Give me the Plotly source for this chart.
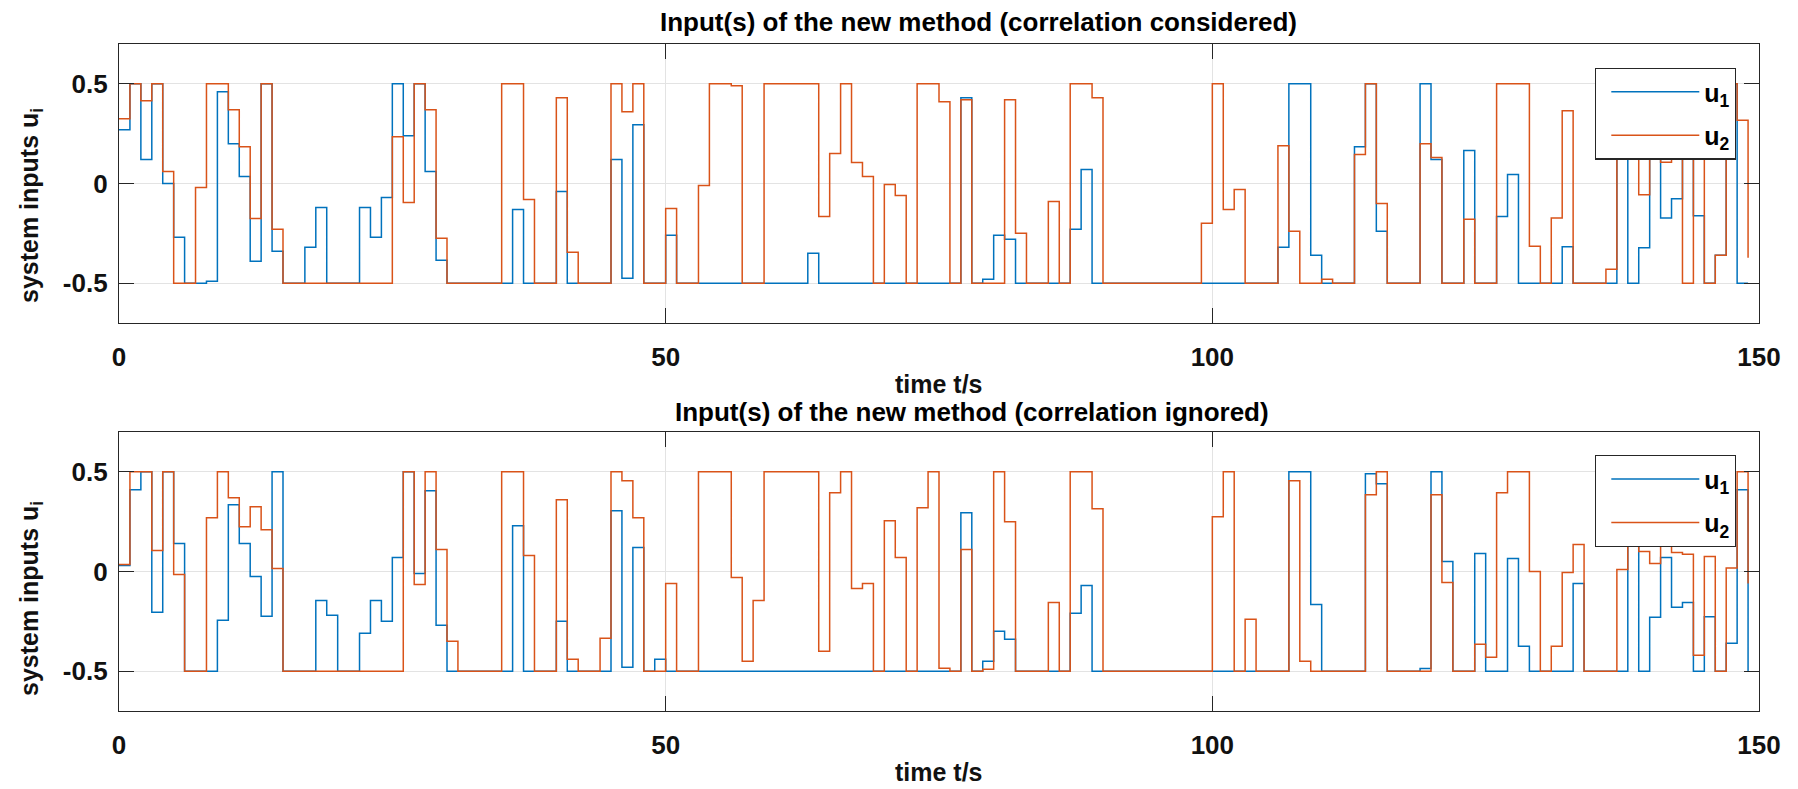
import plotly.graph_objects as go

# time samples (s)
t = list(range(150))

# ---- correlation considered ----
top_u1 = [0.27, 0.5, 0.12, 0.5, 0.0, -0.27, -0.5, -0.5, -0.49, 0.46,
          0.2, 0.035, -0.39, 0.5, -0.34, -0.5, -0.5, -0.32, -0.12, -0.5,
          -0.5, -0.5, -0.12, -0.27, -0.07, 0.5, 0.24, 0.5, 0.06, -0.385,
          -0.5, -0.5, -0.5, -0.5, -0.5, -0.5, -0.13, -0.5, -0.5, -0.5,
          -0.04, -0.5, -0.5, -0.5, -0.5, 0.12, -0.475, 0.295, -0.5, -0.5,
          -0.26, -0.5, -0.5, -0.5, -0.5, -0.5, -0.5, -0.5, -0.5, -0.5,
          -0.5, -0.5, -0.5, -0.35, -0.5, -0.5, -0.5, -0.5, -0.5, -0.5,
          -0.5, -0.5, -0.5, -0.5, -0.5, -0.5, -0.5, 0.43, -0.5, -0.48,
          -0.26, -0.28, -0.5, -0.5, -0.5, -0.5, -0.5, -0.23, 0.07, -0.5,
          -0.5, -0.5, -0.5, -0.5, -0.5, -0.5, -0.5, -0.5, -0.5, -0.5,
          -0.5, -0.5, -0.5, -0.5, -0.5, -0.5, -0.32, 0.5, 0.5, -0.36,
          -0.5, -0.5, -0.5, 0.185, 0.5, -0.24, -0.5, -0.5, -0.5, 0.5,
          0.12, -0.5, -0.5, 0.165, -0.5, -0.5, -0.165, 0.045, -0.5, -0.5,
          -0.5, -0.5, -0.317, -0.5, -0.5, -0.5, -0.5, 0.35, -0.5, -0.323,
          0.4, -0.173, -0.077, 0.3, -0.162, -0.5, -0.36, 0.5, -0.5, -0.5]

top_u2 = [0.325, 0.5, 0.415, 0.5, 0.06, -0.5, -0.5, -0.02, 0.5, 0.5,
          0.37, 0.185, -0.175, 0.5, -0.23, -0.5, -0.5, -0.5, -0.5, -0.5,
          -0.5, -0.5, -0.5, -0.5, -0.5, 0.235, -0.095, 0.5, 0.37, -0.275,
          -0.5, -0.5, -0.5, -0.5, -0.5, 0.5, 0.5, -0.08, -0.5, -0.5,
          0.43, -0.345, -0.5, -0.5, -0.5, 0.5, 0.36, 0.5, -0.5, -0.5,
          -0.125, -0.5, -0.5, -0.01, 0.5, 0.5, 0.49, -0.5, -0.5, 0.5,
          0.5, 0.5, 0.5, 0.5, -0.165, 0.15, 0.5, 0.105, 0.035, -0.5,
          -0.005, -0.06, -0.5, 0.5, 0.5, 0.41, -0.5, 0.42, -0.5, -0.5,
          -0.5, 0.42, -0.25, -0.5, -0.5, -0.09, -0.5, 0.5, 0.5, 0.43,
          -0.5, -0.5, -0.5, -0.5, -0.5, -0.5, -0.5, -0.5, -0.5, -0.2,
          0.5, -0.13, -0.03, -0.5, -0.5, -0.5, 0.19, -0.24, -0.5, -0.5,
          -0.48, -0.5, -0.5, 0.145, 0.5, -0.1, -0.5, -0.5, -0.5, 0.2,
          0.13, -0.5, -0.5, -0.18, -0.5, -0.5, 0.5, 0.5, 0.5, -0.315,
          -0.5, -0.173, 0.365, -0.5, -0.5, -0.5, -0.43, 0.5, 0.3, -0.057,
          0.45, 0.107, 0.25, -0.5, 0.5, -0.5, -0.36, 0.5, 0.318, -0.373]

# ---- correlation ignored ----
bot_u1 = [0.03, 0.41, 0.5, -0.205, 0.5, 0.14, -0.5, -0.5, -0.5, -0.245,
          0.335, 0.14, -0.025, -0.225, 0.5, -0.5, -0.5, -0.5, -0.145, -0.22,
          -0.5, -0.5, -0.31, -0.145, -0.25, 0.07, 0.5, -0.01, 0.405, -0.27,
          -0.5, -0.5, -0.5, -0.5, -0.5, -0.5, 0.23, -0.5, -0.5, -0.5,
          -0.25, -0.5, -0.5, -0.5, -0.5, 0.305, -0.48, 0.12, -0.5, -0.44,
          -0.5, -0.5, -0.5, -0.5, -0.5, -0.5, -0.5, -0.5, -0.5, -0.5,
          -0.5, -0.5, -0.5, -0.5, -0.5, -0.5, -0.5, -0.5, -0.5, -0.5,
          -0.5, -0.5, -0.5, -0.5, -0.5, -0.5, -0.5, 0.295, -0.5, -0.45,
          -0.3, -0.34, -0.5, -0.5, -0.5, -0.5, -0.5, -0.21, -0.07, -0.5,
          -0.5, -0.5, -0.5, -0.5, -0.5, -0.5, -0.5, -0.5, -0.5, -0.5,
          -0.5, -0.5, -0.5, -0.5, -0.5, -0.5, -0.5, 0.5, 0.5, -0.165,
          -0.5, -0.5, -0.5, -0.5, 0.49, 0.44, -0.5, -0.5, -0.5, -0.487,
          0.5, 0.05, -0.5, -0.5, 0.09, -0.5, -0.5, 0.065, -0.375, -0.5,
          -0.5, -0.5, -0.5, -0.06, -0.5, -0.5, -0.5, -0.5, 0.3, -0.5,
          -0.23, 0.07, -0.18, -0.155, -0.5, -0.227, -0.5, -0.36, 0.41, -0.5]

bot_u2 = [0.035, 0.5, 0.5, 0.105, 0.5, -0.015, -0.5, -0.5, 0.27, 0.5,
          0.37, 0.225, 0.325, 0.21, 0.015, -0.5, -0.5, -0.5, -0.5, -0.5,
          -0.5, -0.5, -0.5, -0.5, -0.5, -0.5, 0.5, -0.065, 0.5, 0.11,
          -0.35, -0.5, -0.5, -0.5, -0.5, 0.5, 0.5, 0.08, -0.5, -0.5,
          0.36, -0.44, -0.5, -0.5, -0.335, 0.5, 0.455, 0.27, -0.5, -0.5,
          -0.06, -0.5, -0.5, 0.5, 0.5, 0.5, -0.03, -0.45, -0.145, 0.5,
          0.5, 0.5, 0.5, 0.5, -0.4, 0.395, 0.5, -0.085, -0.06, -0.5,
          0.255, 0.07, -0.5, 0.32, 0.5, -0.485, -0.5, 0.11, -0.5, -0.49,
          0.5, 0.25, -0.5, -0.5, -0.5, -0.155, -0.5, 0.5, 0.5, 0.315,
          -0.5, -0.5, -0.5, -0.5, -0.5, -0.5, -0.5, -0.5, -0.5, -0.5,
          0.275, 0.5, -0.5, -0.24, -0.5, -0.5, -0.5, 0.455, -0.45, -0.5,
          -0.5, -0.5, -0.5, -0.5, 0.385, 0.5, -0.5, -0.5, -0.5, -0.5,
          0.385, -0.055, -0.5, -0.5, -0.365, -0.43, 0.395, 0.5, 0.5, 0.0,
          -0.5, -0.375, -0.005, 0.135, -0.5, -0.5, -0.5, 0.01, 0.4, 0.1,
          0.04, 0.25, 0.095, 0.087, -0.42, 0.075, -0.5, 0.017, 0.5, -0.06]

titles = ["Input(s) of the new method (correlation considered)",
          "Input(s) of the new method (correlation ignored)"]
series_names = ["u<sub>1</sub>", "u<sub>2</sub>"]
x_label = "time t/s"
y_label = "system inputs u<sub>i</sub>"
x_ticks = [0, 50, 100, 150]
y_ticks = [-0.5, 0, 0.5]
y_tick_text = ["-0.5", "0", "0.5"]

BLUE = "#0072BD"
ORANGE = "#D95319"
FONT = "Liberation Sans, Arial, sans-serif"
TXT = "#111111"

fig = go.Figure()
panels = [(top_u1, top_u2, "x", "y", "legend"),
          (bot_u1, bot_u2, "x2", "y2", "legend2")]
for u1, u2, xa, ya, lg in panels:
    for i, (vals, name, col) in enumerate(((u1, series_names[0], BLUE), (u2, series_names[1], ORANGE))):
        fig.add_trace(go.Scatter(x=t, y=vals, mode="lines", name="<b>" + name + "</b>",
                                 line=dict(color=col, width=1.5, shape="hv"),
                                 legendgroup=lg + str(i),
                                 xaxis=xa, yaxis=ya, legend=lg))

axis_common = dict(showline=True, linecolor="#262626", linewidth=1.3, mirror="ticks",
                   ticks="inside", ticklen=15, tickwidth=1.3, tickcolor="#262626",
                   showgrid=True, gridcolor="#e3e3e3", gridwidth=1.3, zeroline=False,
                   automargin=False,
                   tickfont=dict(family=FONT, size=26, color=TXT, weight="bold"))

xcommon = dict(axis_common, range=[0, 150], tickvals=x_ticks, ticklabelstandoff=11)
ycommon = dict(axis_common, range=[-0.7, 0.7], tickvals=y_ticks, ticktext=y_tick_text,
               ticklabelstandoff=5)

# plot area spans page pixels y 44..711 (667 px)
def py(ypx):
    return (711 - ypx) / 667

top_dom = [1 - 279 / 667, 1]
bot_dom = [0, 279 / 667]

legend_common = dict(bgcolor="white", bordercolor="#262626", borderwidth=1.3,
                     font=dict(family=FONT, size=25, color="black"),
                     itemwidth=88, indentation=10, xanchor="left", yanchor="top", x=0.9,
                     traceorder="grouped", tracegroupgap=8, itemclick=False)

def ylab(ypx):
    return dict(text="<b>" + y_label + "</b>", x=(31 - 119) / 1640, y=py(ypx),
                xref="paper", yref="paper", xanchor="center", yanchor="middle",
                textangle=-90, showarrow=False, font=dict(family=FONT, size=25, color=TXT))

def xlab(ypx):
    return dict(text="<b>" + x_label + "</b>", x=0.5, y=py(ypx),
                xref="paper", yref="paper", xanchor="center", yanchor="middle",
                showarrow=False, font=dict(family=FONT, size=25, color=TXT))

def title(txt, xp, ypx):
    return dict(text="<b>" + txt + "</b>", x=xp, y=py(ypx), xref="paper", yref="paper",
                xanchor="center", yanchor="middle", showarrow=False,
                font=dict(family=FONT, size=26, color="black"))

fig.update_layout(
    width=1798, height=789,
    margin=dict(l=119, r=39, t=44, b=78, autoexpand=False),
    paper_bgcolor="white", plot_bgcolor="white",
    xaxis=dict(xcommon, domain=[0, 1], anchor="y"),
    yaxis=dict(ycommon, domain=top_dom, anchor="x"),
    xaxis2=dict(xcommon, domain=[0, 1], anchor="y2"),
    yaxis2=dict(ycommon, domain=bot_dom, anchor="x2"),
    legend=dict(legend_common, y=py(67.7)),
    legend2=dict(legend_common, y=py(455)),
    annotations=[
        title(titles[0], 0.524, 22),
        title(titles[1], 0.52, 412),
        xlab(384),
        xlab(772),
        ylab(206),
        ylab(599),
    ],
    showlegend=True,
)

fig.write_html("out.html")
